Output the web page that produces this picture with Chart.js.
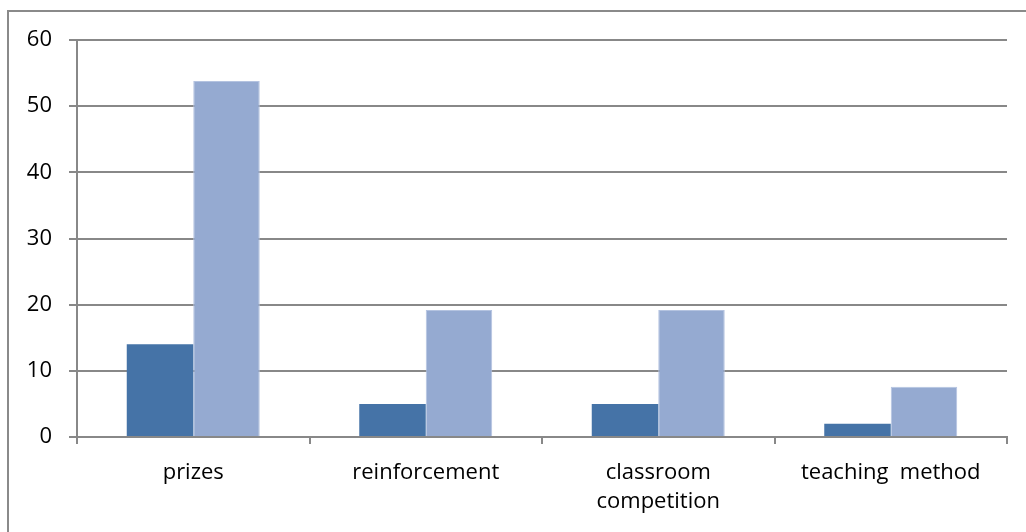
<!DOCTYPE html>
<html>
<head>
<meta charset="utf-8">
<script src="https://cdn.jsdelivr.net/npm/chart.js@4"></script>
<style>
html,body{margin:0;padding:0;background:#fff;}
#wrap{width:1026px;height:532px;position:relative;}
</style>
</head>
<body>
<div id="wrap"><canvas id="c" width="1026" height="532"></canvas></div>
<script>
const categories = ['prizes', 'reinforcement', ['classroom', 'competition'], 'teaching  method'];
const series1 = [14, 5, 5, 2];
const series2 = [53.8, 19.2, 19.2, 7.6];
const yTicks = [0, 10, 20, 30, 40, 50, 60];

const frame = {
  id: 'frame',
  afterDraw(chart) {
    const ctx = chart.ctx;
    ctx.save();
    ctx.strokeStyle = '#8a8a8a';
    ctx.lineWidth = 2;
    ctx.beginPath();
    ctx.moveTo(8, 532);
    ctx.lineTo(8, 11);
    ctx.lineTo(1026, 11);
    ctx.stroke();
    ctx.restore();
  }
};

const FONT = "'Open Sans', sans-serif";
new Chart(document.getElementById('c'), {
  type: 'bar',
  data: {
    labels: categories,
    datasets: [
      { label: 'Series 1', data: series1, backgroundColor: '#4573A7', categoryPercentage: 0.572, barPercentage: 1.0 },
      { label: 'Series 2', data: series2, backgroundColor: '#95AAD1', borderColor: '#B4C3E0', borderWidth: {top:1,left:1,right:1,bottom:0}, categoryPercentage: 0.572, barPercentage: 1.0 }
    ]
  },
  options: {
    responsive: false,
    animation: false,
    devicePixelRatio: 1,
    layout: { padding: { left: 0, top: 40, right: 19, bottom: 0 } },
    plugins: { legend: { display: false }, tooltip: { enabled: false } },
    scales: {
      x: {
        grid: { display: true, drawOnChartArea: false, drawTicks: true, tickLength: 7, color: '#888888', lineWidth: 2, offset: true },
        border: { display: true, color: '#888888', width: 2 },
        ticks: { color: '#000', font: { family: FONT, size: 22, lineHeight: 1.32 }, padding: 14, maxRotation: 0, autoSkip: false },
        afterFit(s) { s.height = 95; }
      },
      y: {
        min: 0, max: 60,
        afterBuildTicks(s) { s.ticks = yTicks.map(v => ({ value: v })); },
        grid: { color: '#888888', lineWidth: 2, tickLength: 8, drawTicks: true },
        border: { display: true, color: '#888888', width: 2 },
        ticks: { color: '#000', font: { family: FONT, size: 22 }, padding: 17 },
        afterFit(s) { s.width = 77; }
      }
    }
  },
  plugins: [frame]
});
</script>
</body>
</html>
